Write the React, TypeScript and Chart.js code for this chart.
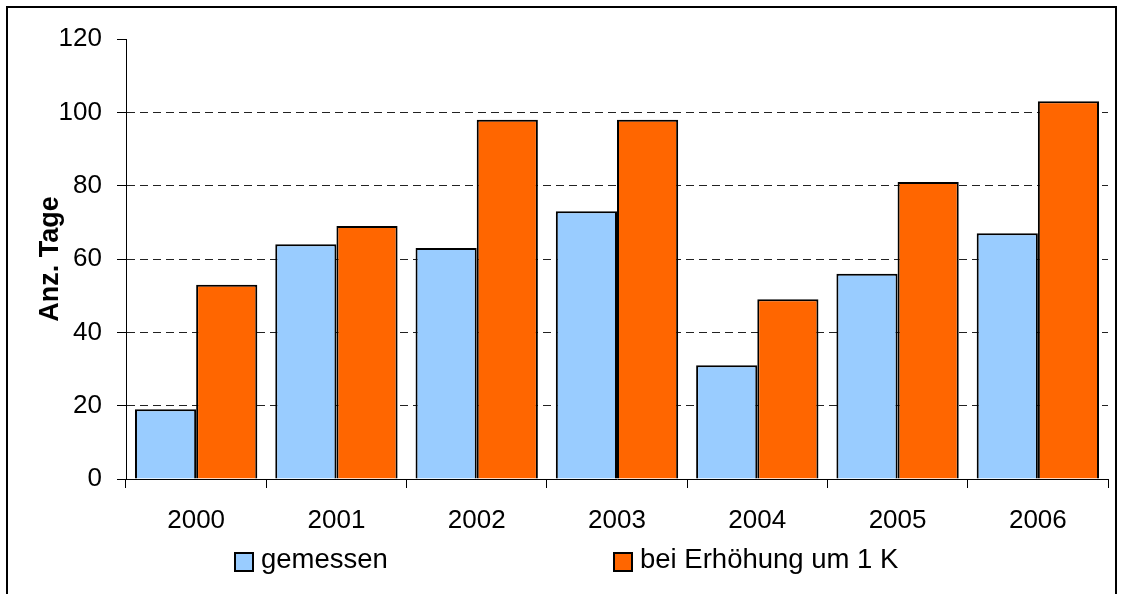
import React, { useEffect, useRef } from 'react';
import { Chart, registerables } from 'chart.js';

Chart.register(...registerables);

const years = ['2000', '2001', '2002', '2003', '2004', '2005', '2006'];
const gemessen = [19, 64, 63, 73, 31, 56, 67];
const erhoehung = [53, 69, 98, 98, 49, 81, 103];
const yTickValues = [0, 20, 40, 60, 80, 100, 120];
const seriesLabels = ['gemessen', 'bei Erhöhung um 1 K'];
const seriesColors = ['#99CCFF', '#FF6600'];
const yTitle = 'Anz. Tage';

const FONT = '"Liberation Sans", Arial, sans-serif';

const framePlugin = {
  id: 'frame',
  afterDraw(chart: any) {
    const ctx = chart.ctx;
    ctx.save();
    ctx.strokeStyle = '#000';
    ctx.lineWidth = 2;
    ctx.strokeRect(7, 7, 1109, 600);
    ctx.restore();
  },
};

const legendPlugin = {
  id: 'customLegend',
  afterDraw(chart: any) {
    const ctx = chart.ctx;
    const xs = [235, 614];
    const boxTop = 553;
    const box = 18;
    const baseline = 568;
    ctx.save();
    ctx.font = `27.5px ${FONT}`;
    ctx.textBaseline = 'alphabetic';
    ctx.textAlign = 'left';
    chart.data.datasets.forEach((ds: any, i: number) => {
      const x = xs[i];
      ctx.fillStyle = ds.backgroundColor;
      ctx.fillRect(x, boxTop, box, box);
      ctx.strokeStyle = '#000';
      ctx.lineWidth = 2;
      ctx.strokeRect(x, boxTop, box, box);
      ctx.fillStyle = '#000';
      ctx.fillText(ds.label, x + 26, baseline);
    });
    ctx.restore();
  },
};

export default function App() {
  const ref = useRef<HTMLCanvasElement | null>(null);

  useEffect(() => {
    if (!ref.current) return;
    const chart = new Chart(ref.current, {
      type: 'bar',
      data: {
        labels: years,
        datasets: [
          {
            label: seriesLabels[0],
            data: gemessen,
            backgroundColor: seriesColors[0],
            borderColor: '#000',
            borderWidth: 2,
          },
          {
            label: seriesLabels[1],
            data: erhoehung,
            backgroundColor: seriesColors[1],
            borderColor: '#000',
            borderWidth: 2,
          },
        ],
      },
      options: {
        responsive: false,
        animation: false,
        layout: { padding: { left: 0, top: 39, right: 15, bottom: 45 } },
        datasets: {
          bar: { categoryPercentage: 0.872, barPercentage: 1 },
        },
        plugins: {
          legend: { display: false },
          tooltip: { enabled: false },
        },
        scales: {
          x: {
            offset: true,
            grid: {
              offset: true,
              drawOnChartArea: false,
              drawTicks: true,
              tickLength: 9,
              color: '#000',
              tickColor: '#000',
            },
            border: { display: true, color: '#000', width: 1 },
            ticks: {
              color: '#000',
              font: { family: FONT, size: 26 },
              padding: 17,
              maxRotation: 0,
            },
            afterFit(scale: any) {
              scale.height = 70;
            },
          },
          y: {
            min: 0,
            max: 120,
            afterBuildTicks(scale: any) {
              scale.ticks = yTickValues.map((v) => ({ value: v }));
            },
            grid: {
              drawTicks: true,
              tickLength: 9,
              color: (c: any) => (c.tick && c.tick.value === 120 ? 'rgba(0,0,0,0)' : '#222'),
              tickColor: '#000',
              tickBorderDash: [],
              lineWidth: 1,
            },
            border: { display: true, color: '#000', width: 1, dash: [8, 5] },
            ticks: {
              color: '#000',
              font: { family: FONT, size: 26 },
              padding: 15,
            },
            title: {
              display: true,
              text: yTitle,
              color: '#000',
              font: { family: FONT, size: 27, weight: 'bold' },
              padding: { top: 34, bottom: 0 },
            },
            afterFit(scale: any) {
              scale.width = 126;
            },
          },
        },
      },
      plugins: [framePlugin, legendPlugin],
    });
    return () => chart.destroy();
  }, []);

  return (
    <div style={{ position: 'absolute', left: 0, top: 0, width: 1123, height: 594, background: '#fff' }}>
      <canvas ref={ref} width={1123} height={594} style={{ display: 'block' }} />
    </div>
  );
}
